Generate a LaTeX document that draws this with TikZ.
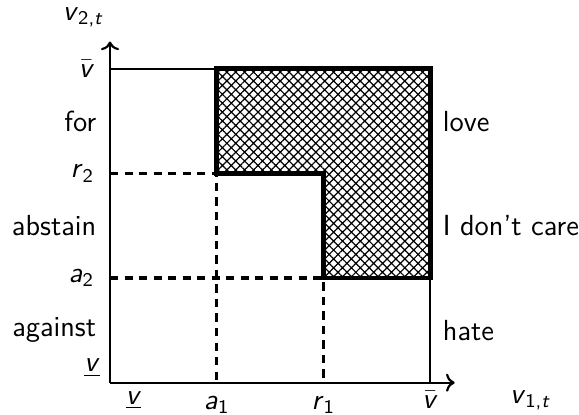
\documentclass[tikz,border=0pt]{standalone}
\usetikzlibrary{arrows.meta, patterns.meta, positioning}
\tikzset{
  axis/.style   = {->, >=To, line width=0.9pt},
  frame/.style  = {line width=0.75pt},
  region/.style = {line width=2pt,
                   pattern={Hatch[angle=45, distance=2.6pt, line width=0.5pt]}},
  cut/.style    = {line width=1.4pt, dash pattern=on 3.4pt off 2.6pt},
  vote/.style   = {font=\large\sffamily, inner sep=2pt},
}
% italic sans variables
\newcommand{\vbar}{$\bar{\hbox{\textit{v}}}$}
\newcommand{\vlow}{\underline{\textit{v}}}
\newcommand{\vsub}[2]{\textit{#1}\textsubscript{#2}}

\begin{document}
\begin{tikzpicture}[x=1.55cm, y=1.52cm, every node/.style={font=\large\sffamily}]
  \useasboundingbox (-1.031,-0.305) rectangle (4.395,3.657);

  % corners of the grid
  \coordinate (O)  at (0,0);
  \coordinate (xa) at (1,0);
  \coordinate (xr) at (2,0);
  \coordinate (xv) at (3,0);
  \coordinate (ya) at (0,1);
  \coordinate (yr) at (0,2);
  \coordinate (yv) at (0,3);
  \coordinate (ar) at (1,2);
  \coordinate (ra) at (2,1);
  \coordinate (av) at (1,3);
  \coordinate (vv) at (3,3);
  \coordinate (va) at (3,1);
  \coordinate (xend) at (3.23,0);
  \coordinate (yend) at (0,3.26);

  % love region
  \draw[region] (av) -- (vv) -- (va) -- (ra) -- (2,2) -- (ar) -- cycle;

  % frame
  \draw[frame] (yv) -- (av);
  \draw[frame] (va) -- (xv);

  % thresholds
  \draw[cut] (yr) -- (ar) -- (xa);
  \draw[cut] (ya) -- (ra) -- (xr);

  % axes
  \draw[axis] (O) -- (xend);
  \draw[axis] (O) -- (yend);

  % tick labels
  \node[left=3pt of yv] (lv2) {\vbar};
  \node[left=3pt of yr] (lr2) {\vsub{r}{2}};
  \node[left=3pt of ya] (la2) {\vsub{a}{2}};
  \node[anchor=south east, inner sep=1pt] (lu2) at (-0.07,0.03) {\vlow};
  \node[below right=0pt and 3pt of O] (lu1) {\vlow};
  \node[below=2pt of xa] (la1) {\vsub{a}{1}};
  \node[below=2pt of xr] (lr1) {\vsub{r}{1}};
  \node[below=0pt of xv] (lv1) {\vbar};
  \node (x1) at (3.94,-0.17) {\vsub{v}{1,\textit{t}}};
  \node (x2) at (-0.25,3.49) {\vsub{v}{2,\textit{t}}};

  % votes of voter 2
  \node[vote, anchor=east] (for)     at (-0.08,2.5) {for};
  \node[vote, anchor=east] (abstain) at (-0.08,1.5) {abstain};
  \node[vote, anchor=east] (against) at (-0.08,0.5) {against};

  % attitude of voter 1
  \node[vote, anchor=west] (love) at (3.07,2.5) {love};
  \node[vote, anchor=west] (care) at (3.07,1.5) {I don't care};
  \node[vote, anchor=west] (hate) at (3.07,0.5) {hate};
\end{tikzpicture}
\end{document}
